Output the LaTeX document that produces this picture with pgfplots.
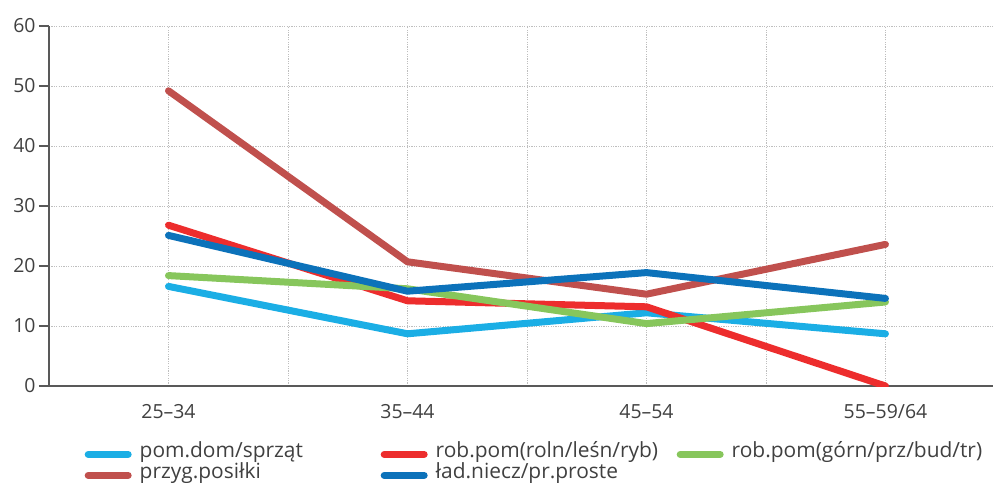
\documentclass[border=0pt]{standalone}
\usepackage{fontspec}
\setmainfont{Open Sans}
\usepackage{pgfplots}
\pgfplotsset{compat=1.18}

\definecolor{lblue}{RGB}{27,174,229}
\definecolor{cred}{RGB}{237,45,45}
\definecolor{cgreen}{RGB}{135,198,92}
\definecolor{cbrown}{RGB}{192,80,77}
\definecolor{dblue}{RGB}{12,114,186}
\definecolor{txt}{RGB}{64,64,64}
\definecolor{gridc}{RGB}{190,190,190}

\newcommand{\lw}{7bp}
\newcommand{\lbl}[1]{\makebox[249bp][l]{\hspace{8bp}#1}}

\begin{document}
\begin{tikzpicture}
  \begin{axis}[
    scale only axis, width=944bp, height=360bp,
    at={(0,0)}, anchor=south west,
    xmin=-0.5, xmax=3.45, ymin=0, ymax=60,
    axis x line*=bottom, axis y line*=left,
    axis line style={-, line width=1.5bp, color=black!65},
    xtick={0,1,2,3},
    xticklabels={25–34,35–44,45–54,55–59/64},
    minor xtick={0.5,1.5,2.5,3.5},
    ytick={0,10,...,60},
    grid=both,
    major grid style={dash pattern=on 1.2bp off 1.2bp, color=gridc, line width=0.9bp},
    minor grid style={dash pattern=on 1.2bp off 1.2bp, color=gridc, line width=0.9bp},
    tick align=outside,
    major tick length=10bp, minor tick length=0pt,
    x tick style={draw=none},
    y tick style={line width=1.2bp, color=black!65},
    tick label style={font=\fontsize{19.5}{22}\selectfont, text=txt},
    xticklabel style={yshift=-5bp},
    /pgf/number format/assume math mode=true,
    every axis plot/.append style={line width=\lw, line cap=round, line join=round},
    legend columns=3,
    legend cell align=left,
    legend image code/.code={\draw[#1, line width=\lw, line cap=round] (0bp,0bp) -- (40bp,0bp);},
    legend style={at={(0.0376,-0.163)}, anchor=north west, draw=none, fill=none,
      inner sep=0pt, font=\fontsize{21}{22}\selectfont, text=txt,
      nodes={inner sep=0bp, text height=13bp, text depth=6bp}, row sep=2bp, column sep=0bp},
  ]
    \addplot[lblue]  coordinates {(0,16.6) (1,8.7) (2,12.2) (3,8.7)};
    \addlegendentry{\lbl{pom.dom/sprząt}}
    \addplot[cred]   coordinates {(0,26.8) (1,14.2) (2,13.2) (3,0)};
    \addlegendentry{\lbl{rob.pom(roln/leśn/ryb)}}
    \addplot[cgreen] coordinates {(0,18.4) (1,16.2) (2,10.4) (3,14.0)};
    \addlegendentry{\lbl{rob.pom(górn/prz/bud/tr)}}
    \addplot[cbrown] coordinates {(0,49.2) (1,20.7) (2,15.3) (3,23.6)};
    \addlegendentry{\lbl{przyg.posiłki}}
    \addplot[dblue]  coordinates {(0,25.1) (1,15.8) (2,18.9) (3,14.6)};
    \addlegendentry{\lbl{ład.niecz/pr.proste}}
  \end{axis}
  \pgfresetboundingbox
  \path[use as bounding box] (-49bp,-97bp) rectangle (944bp,386bp);
\end{tikzpicture}
\end{document}
